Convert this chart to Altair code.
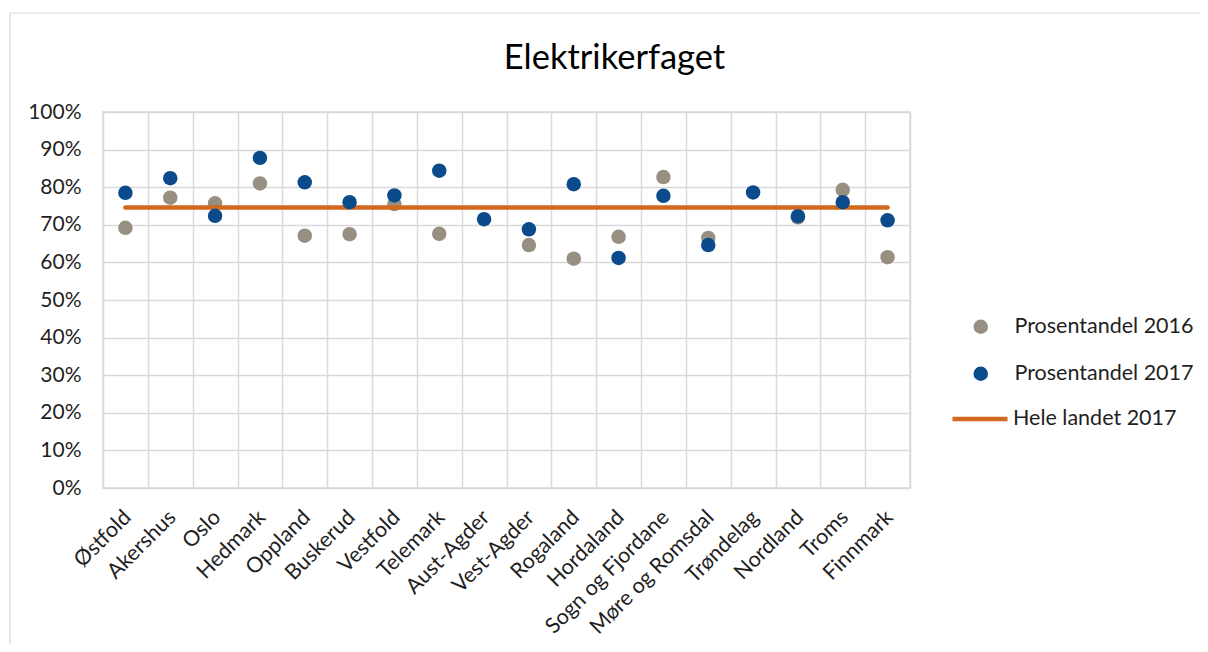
import altair as alt
import pandas as pd

regions = ["Østfold", "Akershus", "Oslo", "Hedmark", "Oppland", "Buskerud", "Vestfold",
           "Telemark", "Aust-Agder", "Vest-Agder", "Rogaland", "Hordaland",
           "Sogn og Fjordane", "Møre og Romsdal", "Trøndelag", "Nordland", "Troms", "Finnmark"]
pct_2016 = [69.2, 77.2, 75.7, 81.0, 67.1, 67.5, 75.5, 67.6, None, 64.6, 61.0, 66.8,
            82.7, 66.5, None, 72.0, 79.3, 61.4]
pct_2017 = [78.5, 82.4, 72.4, 87.8, 81.3, 76.0, 77.8, 84.4, 71.5, 68.8, 80.8, 61.2,
            77.7, 64.6, 78.6, 72.3, 76.0, 71.2]
national_2017 = 74.6
y_ticks = [0, 10, 20, 30, 40, 50, 60, 70, 80, 90, 100]

S16 = "Prosentandel 2016"
S17 = "Prosentandel 2017"
SL = "Hele landet 2017"

rows = []
for r, a, b in zip(regions, pct_2016, pct_2017):
    if a is not None:
        rows.append({"region": r, "series": S16, "value": a / 100})
    if b is not None:
        rows.append({"region": r, "series": S17, "value": b / 100})
pts = pd.DataFrame(rows)
line_df = pd.DataFrame({"region": regions, "series": SL, "value": national_2017 / 100})

FONT = "Lato"
TXT = "#1f1f1f"
GRID = "#D9D9D9"

x_enc = alt.X("region:N", sort=regions, title=None,
              scale=alt.Scale(paddingInner=0, paddingOuter=0),
              axis=alt.Axis(grid=True, tickBand="extent", ticks=False, domain=False,
                            labelAngle=-45, labelAlign="right", labelBaseline="middle",
                            labelPadding=26, labelOffset=2, labelFontSize=21.5,
                            labelFont=FONT, labelColor=TXT, labelOverlap=False,
                            labelLimit=400))
y_enc = alt.Y("value:Q", title=None,
              scale=alt.Scale(domain=[0, 1], nice=False, zero=True),
              axis=alt.Axis(values=[v / 100 for v in y_ticks], format=".0%", ticks=False,
                            domain=False, labelPadding=22, labelFontSize=21,
                            labelFont=FONT, labelColor=TXT))

fill_scale = alt.Scale(domain=[S16, S17], range=["#968F82", "#0B4A8B"])
fill_legend = alt.Legend(title=None, orient="none", legendX=867, legendY=204,
                         symbolSize=210, symbolType="circle", labelOffset=23,
                         rowPadding=24, labelFontSize=21.5, labelFont=FONT,
                         labelColor=TXT, symbolStrokeWidth=0, padding=0, labelLimit=400)

base = alt.Chart(pts)
gray = base.transform_filter(alt.datum.series == S16).mark_circle(size=210, opacity=1).encode(
    x=x_enc, y=y_enc,
    fill=alt.Fill("series:N", scale=fill_scale, legend=fill_legend))
blue = base.transform_filter(alt.datum.series == S17).mark_circle(size=210, opacity=1).encode(
    x=x_enc, y=y_enc,
    fill=alt.Fill("series:N", scale=fill_scale, legend=fill_legend))

line = alt.Chart(line_df).mark_line(strokeWidth=4.5, strokeCap="round").encode(
    x=x_enc, y=y_enc,
    stroke=alt.Stroke("series:N", scale=alt.Scale(domain=[SL], range=["#D2691E"]),
                      legend=alt.Legend(title=None, orient="none", legendX=847,
                                        legendY=277, symbolSize=3025,
                                        symbolStrokeWidth=4.5, labelOffset=3,
                                        labelFontSize=21.5, labelFont=FONT,
                                        labelColor=TXT, padding=0, labelLimit=400)))

frame = alt.Chart(pd.DataFrame({"a": [0]})).mark_rect(
    filled=False, stroke=GRID, strokeWidth=1.2, clip=False).encode(
    x=alt.value(-93), x2=alt.value(1300), y=alt.value(-99), y2=alt.value(700))

chart = alt.layer(frame, gray, line, blue).properties(
    width=807, height=376,
    title=alt.TitleParams("Elektrikerfaget", fontSize=34.5, font=FONT, fontWeight="normal",
                          color="#000000", anchor="middle", dx=108, dy=91, offset=0,
                          baseline="alphabetic"),
    autosize=alt.AutoSizeParams(type="none"),
    padding={"left": 95, "top": 104, "right": 290, "bottom": 156},
).configure_view(stroke=GRID, strokeWidth=1.5).configure_axis(
    gridColor=GRID, gridWidth=1.5)

chart.save("out.html", embed_options={"renderer": "svg", "actions": False})
